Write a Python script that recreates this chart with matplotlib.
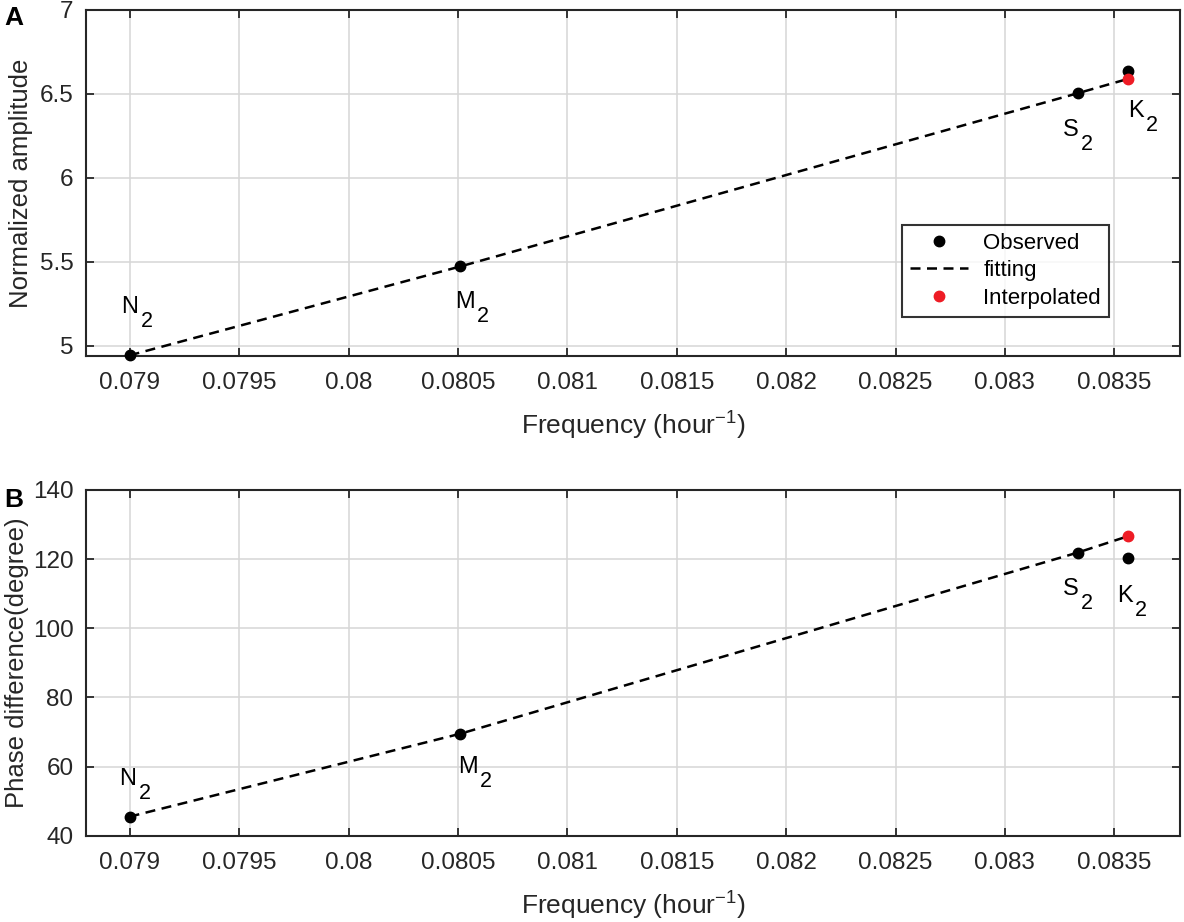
import matplotlib
matplotlib.use("Agg")
import matplotlib.pyplot as plt
from matplotlib.ticker import FuncFormatter, MultipleLocator

plt.rcParams['font.family'] = 'Liberation Sans'
plt.rcParams['mathtext.fontset'] = 'custom'
plt.rcParams['mathtext.rm'] = 'Liberation Sans'
plt.rcParams['mathtext.it'] = 'Liberation Sans'
plt.rcParams['mathtext.default'] = 'regular'

# tidal constituents (cycles per hour)
names = ['N', 'M', 'S', 'K']
freq = [0.0789992, 0.0805114, 0.0833333, 0.0835615]

# panel A: normalized amplitude
amp_obs = [4.942, 5.472, 6.504, 6.639]
amp_fit = [4.942, 5.472, 6.504, 6.589]
amp_interp = [6.589]

# panel B: phase difference (degree)
phase_obs = [45.5, 69.5, 121.9, 120.3]
phase_fit = [45.5, 69.5, 121.9, 126.6]
phase_interp = [126.6]

# label offsets from each point (pixels)
amp_lab_off = [(-8, 42), (-5, -42), (-15, -43), (0, -46)]
phase_lab_off = [(-10, 32), (-2, -39), (-15, -42), (-11, -44)]

dark = '#262626'
red = '#ee1c25'

fig = plt.figure(figsize=(11.84, 9.22), dpi=100)
ax1 = fig.add_axes([0.0726, 0.6142, 0.924, 0.375])
ax2 = fig.add_axes([0.0726, 0.0936, 0.924, 0.375])


def draw_panel(ax, obs, fit, interp, offsets):
    ax.grid(True, color='#d6d6d6', linewidth=1.1, zorder=0)
    ax.plot(freq, obs, 'o', color='k', markersize=7.5, clip_on=False,
            zorder=3, label='Observed')
    ax.plot(freq, fit, '--', color='k', linewidth=1.8, dashes=(4, 2.6),
            zorder=2, label='fitting')
    ax.plot(freq[-1:], interp, 'o', color=red, markersize=7.5, clip_on=False,
            zorder=4, label='Interpolated')
    for i in range(len(freq)):
        t = ax.annotate(names[i], xy=(freq[i], obs[i]), xytext=offsets[i],
                        textcoords='offset pixels', ha='left', va='baseline',
                        fontsize=17, color='k')
        ax.annotate('2', xy=(1, 0), xycoords=t, xytext=(2, -9),
                    textcoords='offset pixels', ha='left', va='baseline',
                    fontsize=15.5, color='k')
    ax.set_xlim(0.0788, 0.0838)
    ax.xaxis.set_major_locator(MultipleLocator(0.0005))
    ax.xaxis.set_major_formatter(FuncFormatter(lambda v, p: '%g' % round(v, 6)))
    ax.yaxis.set_major_formatter(FuncFormatter(lambda v, p: '%g' % round(v, 6)))
    ax.tick_params(direction='in', length=6, width=1.3, top=True, right=True,
                   labelsize=17.5, colors=dark, pad=9)
    ax.tick_params(axis='x', pad=12)
    for s in ax.spines.values():
        s.set_linewidth(1.5)
        s.set_color(dark)
    ax.set_xlabel('Frequency (hour$^{-1}$)', fontsize=19, color=dark, labelpad=11)


draw_panel(ax1, amp_obs, amp_fit, amp_interp, amp_lab_off)
ax1.set_ylim(4.94, 7)
ax1.yaxis.set_major_locator(MultipleLocator(0.5))
ax1.set_ylabel('Normalized amplitude', fontsize=18.5, color=dark)
ax1.yaxis.set_label_coords(-0.0484, 0.5)
leg = ax1.legend(loc='lower right', bbox_to_anchor=(0.935, 0.113), fontsize=16,
                 frameon=True, fancybox=False, edgecolor='k', handlelength=2.6,
                 borderpad=0.35, labelspacing=0.3, handletextpad=0.7,
                 borderaxespad=0)
leg.get_frame().set_linewidth(1.5)

draw_panel(ax2, phase_obs, phase_fit, phase_interp, phase_lab_off)
ax2.set_ylim(40, 140)
ax2.yaxis.set_major_locator(MultipleLocator(20))
ax2.set_ylabel('Phase difference(degree)', fontsize=18.5, color=dark)
ax2.yaxis.set_label_coords(-0.052, 0.5)

fig.text(4 / 1184, 1 - 25 / 922, 'A', fontsize=19, fontweight='bold', va='baseline')
fig.text(4 / 1184, 1 - 507 / 922, 'B', fontsize=19, fontweight='bold', va='baseline')

fig.savefig('out.png', dpi=100)
